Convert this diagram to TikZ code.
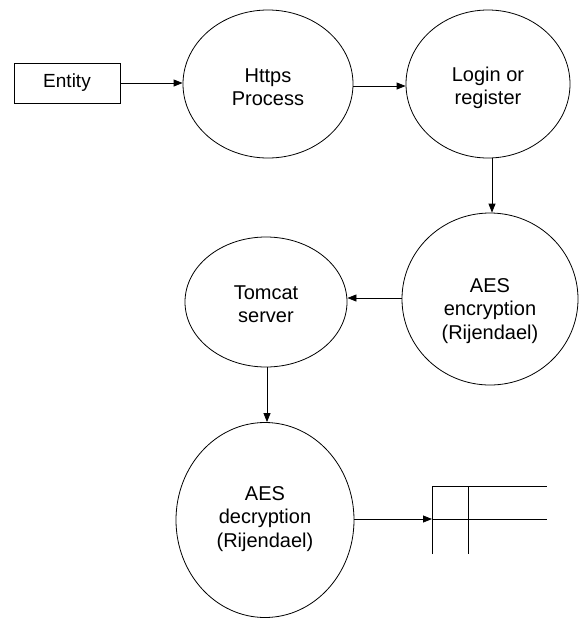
\documentclass[tikz,border=0pt]{standalone}
\usepackage{fontspec}
\setmainfont{Liberation Sans}
\usetikzlibrary{shapes.geometric,arrows.meta}
\begin{document}
\begin{tikzpicture}[x=1pt,y=-1pt,
  line width=0.8pt,
  proc/.style={draw, ellipse, inner sep=0pt},
  lbl/.style={align=center, font=\fontsize{20}{23.5}\selectfont, inner sep=0pt},
  flow/.style={-{Triangle[length=9pt,width=7pt]}}]
\useasboundingbox (0,0) rectangle (580,619);
% entity
\node[draw, minimum width=106pt, minimum height=40pt, inner sep=0pt,
      font=\fontsize{19}{22}\selectfont] (entity) at (67,83) {Entity};
% processes
\node[proc, minimum width=170pt, minimum height=148pt] (https) at (268,84) {};
\node[lbl] (httpsT) at (268,87) {Https\\Process};
\node[proc, minimum width=164pt, minimum height=148pt] (login) at (488,84) {};
\node[lbl] (loginT) at (488,88) {Login or\\register};
\node[proc, minimum width=176pt, minimum height=172pt] (aesenc) at (490,299) {};
\node[lbl] (aesencT) at (490,311) {AES\\encryption\\(Rijendael)};
\node[proc, minimum width=162pt, minimum height=130pt] (tomcat) at (266,302) {};
\node[lbl] (tomcatT) at (266,304) {Tomcat\\server};
\node[proc, minimum width=178pt, minimum height=195pt] (aesdec) at (265,520) {};
\node[lbl] (aesdecT) at (265,519) {AES\\decryption\\(Rijendael)};
% data store
\coordinate (stTL) at (432,486);
\coordinate (stTR) at (547,486);
\coordinate (stML) at (432,519);
\coordinate (stMR) at (547,519);
\coordinate (stBL) at (432,554);
\coordinate (stT2) at (468,486);
\coordinate (stB2) at (468,554);
\draw (stBL) -- (stTL) -- (stTR);
\draw (stML) -- (stMR);
\draw (stT2) -- (stB2);
% connectors
\draw[flow] (entity.east) -- (entity.east -| https.west);
\draw[flow] ([yshift=-2pt]https.east) -- ([yshift=-2pt]login.west);
\draw[flow] ([xshift=4pt]login.south) -- ([xshift=4pt]login.south |- aesenc.north);
\draw[flow] (aesenc.west |- 0,298) -- (tomcat.east |- 0,298);
\draw[flow] ([xshift=1pt]tomcat.south) -- ([xshift=1pt]tomcat.south |- aesdec.north);
\draw[flow] (aesdec.east |- stML) -- (stML);
\end{tikzpicture}
\end{document}
